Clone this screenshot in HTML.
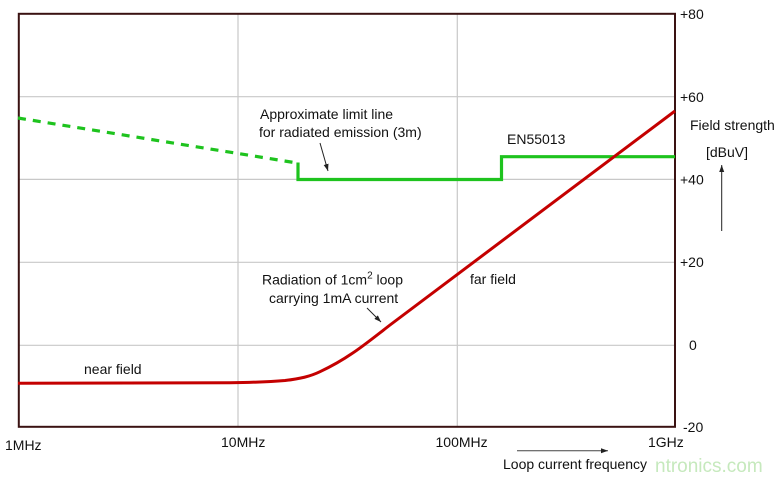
<!DOCTYPE html>
<html><head><meta charset="utf-8"><style>
html,body{margin:0;padding:0;background:#fff;}
svg{display:block;}
text{font-family:"Liberation Sans",Arial,sans-serif;font-size:14px;fill:#111;}
</style></head><body>
<svg width="782" height="480" viewBox="0 0 782 480" xmlns="http://www.w3.org/2000/svg">
<defs>
<marker id="ah" markerWidth="8" markerHeight="8" refX="7" refY="4" orient="auto" markerUnits="userSpaceOnUse">
<path d="M0,1.5 L7,4 L0,6.5 Z" fill="#222"/>
</marker>
</defs>
<rect width="782" height="480" fill="#fff"/>
<!-- grid -->
<g stroke="#c8c8c8" stroke-width="1.2">
<line x1="238" y1="14" x2="238" y2="427"/>
<line x1="457.3" y1="14" x2="457.3" y2="427"/>
<line x1="19" y1="96.7" x2="675" y2="96.7"/>
<line x1="19" y1="179.4" x2="675" y2="179.4"/>
<line x1="19" y1="262.3" x2="675" y2="262.3"/>
<line x1="19" y1="345.3" x2="675" y2="345.3"/>
</g>
<!-- frame -->
<rect x="18.8" y="13.8" width="656.2" height="413" fill="none" stroke="#3a1212" stroke-width="2"/>
<!-- green limit line -->
<line x1="18" y1="118" x2="297" y2="163" stroke="#1ec31e" stroke-width="3.2" stroke-dasharray="8 7"/>
<polyline points="298,162.5 298,179.5 501.5,179.5 501.5,156.7 675,156.7" fill="none" stroke="#1ec31e" stroke-width="3.2"/>
<!-- red curve -->
<path d="M18,383.3 L230,382.8 C255,382.4 270,381.8 285,380.5 C300,378.8 310,376.5 320,371.7 C332,366 340,361.7 352,353.5 C362,347 372,339 390,325 L675,111" fill="none" stroke="#c40000" stroke-width="3"/>
<!-- annotations -->
<text x="260" y="119">Approximate limit line</text>
<text x="259" y="137">for radiated emission (3m)</text>
<line x1="320" y1="143" x2="328" y2="171" stroke="#222" stroke-width="1" marker-end="url(#ah)"/>
<text x="507" y="144">EN55013</text>
<text x="690" y="130">Field strength</text>
<text x="706" y="157">[dBuV]</text>
<line x1="721.7" y1="231" x2="721.7" y2="165" stroke="#222" stroke-width="1" marker-end="url(#ah)"/>
<text x="84" y="374">near field</text>
<text x="262" y="284.5">Radiation of 1cm<tspan font-size="10" dy="-6">2</tspan><tspan dy="6"> loop</tspan></text>
<text x="269" y="303">carrying 1mA current</text>
<line x1="367" y1="308" x2="381" y2="322" stroke="#222" stroke-width="1" marker-end="url(#ah)"/>
<text x="470" y="284">far field</text>
<!-- right axis labels -->
<text x="680" y="19">+80</text>
<text x="680" y="102">+60</text>
<text x="680" y="184.5">+40</text>
<text x="680" y="267">+20</text>
<text x="689" y="350">0</text>
<text x="683" y="432">-20</text>
<!-- bottom labels -->
<text x="5" y="450">1MHz</text>
<text x="221" y="447">10MHz</text>
<text x="435.5" y="447">100MHz</text>
<text x="648" y="447">1GHz</text>
<line x1="517" y1="450.7" x2="608" y2="450.7" stroke="#444" stroke-width="1" marker-end="url(#ah)"/>
<text x="655" y="472" style="font-size:19px;fill:#c6e9bd;">ntronics.com</text>
<text x="503" y="469">Loop current frequency</text>
</svg>
</body></html>
